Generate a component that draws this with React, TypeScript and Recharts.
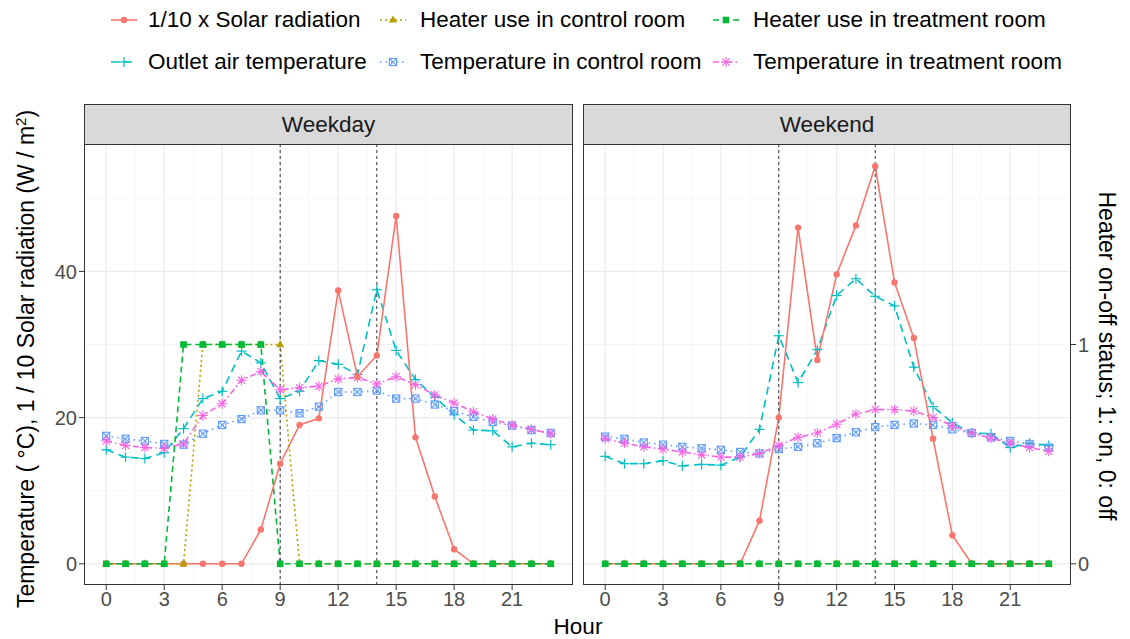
import React from 'react';
import { ComposedChart, Line, XAxis, YAxis, CartesianGrid, ReferenceLine } from 'recharts';

// Hourly means, 0-23 h
const hours = [0, 1, 2, 3, 4, 5, 6, 7, 8, 9, 10, 11, 12, 13, 14, 15, 16, 17, 18, 19, 20, 21, 22, 23];

// Weekday
const weekdaySolar = [0, 0, 0, 0, 0, 0, 0, 0, 4.7, 13.7, 19.0, 19.9, 37.4, 25.6, 28.5, 47.6, 17.3, 9.2, 2.0, 0, 0, 0, 0, 0];
const weekdayHeaterControl = [0, 0, 0, 0, 0, 1, 1, 1, 1, 1, 0, 0, 0, 0, 0, 0, 0, 0, 0, 0, 0, 0, 0, 0];
const weekdayHeaterTreatment = [0, 0, 0, 0, 1, 1, 1, 1, 1, 0, 0, 0, 0, 0, 0, 0, 0, 0, 0, 0, 0, 0, 0, 0];
const weekdayOutlet = [15.6, 14.6, 14.4, 15.2, 18.5, 22.6, 23.6, 29.1, 27.5, 22.6, 23.6, 27.8, 27.3, 25.9, 37.5, 29.2, 25.2, 22.8, 20.4, 18.3, 18.2, 16.0, 16.5, 16.3];
const weekdayControl = [17.5, 17.1, 16.8, 16.4, 16.3, 17.8, 19.0, 19.8, 21.0, 21.0, 20.6, 21.5, 23.5, 23.5, 23.7, 22.6, 22.6, 21.8, 20.9, 20.1, 19.4, 18.9, 18.3, 17.9];
const weekdayTreatment = [16.8, 16.2, 15.9, 15.8, 16.4, 20.3, 21.9, 25.1, 26.3, 23.8, 24.1, 24.3, 25.3, 25.5, 24.6, 25.6, 24.5, 23.1, 22.0, 20.8, 19.8, 19.0, 18.4, 17.8];

// Weekend
const weekendSolar = [0, 0, 0, 0, 0, 0, 0, 0, 5.9, 20.0, 46.0, 27.9, 39.6, 46.3, 54.4, 38.5, 30.9, 17.1, 3.9, 0, 0, 0, 0, 0];
const weekendHeaterControl = [0, 0, 0, 0, 0, 0, 0, 0, 0, 0, 0, 0, 0, 0, 0, 0, 0, 0, 0, 0, 0, 0, 0, 0];
const weekendHeaterTreatment = [0, 0, 0, 0, 0, 0, 0, 0, 0, 0, 0, 0, 0, 0, 0, 0, 0, 0, 0, 0, 0, 0, 0, 0];
const weekendOutlet = [14.7, 13.7, 13.7, 14.1, 13.4, 13.6, 13.5, 14.6, 18.4, 31.2, 24.8, 29.3, 36.7, 39.0, 36.6, 35.3, 26.9, 21.5, 19.3, 17.9, 17.8, 15.9, 16.5, 16.2];
const weekendControl = [17.4, 17.1, 16.6, 16.3, 16.0, 15.8, 15.6, 15.3, 15.1, 15.7, 16.0, 16.5, 17.2, 18.0, 18.7, 19.0, 19.2, 19.0, 18.4, 17.9, 17.3, 16.8, 16.4, 15.9];
const weekendTreatment = [17.1, 16.5, 16.0, 15.7, 15.3, 14.9, 14.6, 14.6, 15.1, 16.2, 17.3, 17.9, 19.1, 20.5, 21.1, 21.1, 20.9, 20.0, 18.9, 17.9, 17.2, 16.5, 15.9, 15.4];

const hourTicks = [0, 3, 6, 9, 12, 15, 18, 21];
const hourMinor = [1.5, 4.5, 7.5, 10.5, 13.5, 16.5, 19.5, 22.5];
const tempTicks = [0, 20, 40];
const tempMinor = [10, 30, 50];
const heaterTicks = [0, 1];
const markerHours = [9, 14];

// heater status sits on a secondary axis: 1 on-state == 30 on the temperature axis
const HEATER_SCALE = 30;
const tempDomain = [-2.9, 57.3];
const heaterDomain = [tempDomain[0] / HEATER_SCALE, tempDomain[1] / HEATER_SCALE];
const hourDomain = [-1.15, 24.15];

type MarkerKind = 'circle' | 'triangle' | 'square' | 'plus' | 'squarecross' | 'asterisk';

interface SeriesDef {
  key: string;
  label: string;
  color: string;
  dash?: string;
  marker: MarkerKind;
  axis: 'temp' | 'heater';
}

const series: SeriesDef[] = [
  { key: 'solar', label: '1/10 x Solar radiation', color: '#F8766D', marker: 'circle', axis: 'temp' },
  { key: 'heaterControl', label: 'Heater use in control room', color: '#B79F00', dash: '2 3', marker: 'triangle', axis: 'heater' },
  { key: 'heaterTreatment', label: 'Heater use in treatment room', color: '#00BA38', dash: '6 4', marker: 'square', axis: 'heater' },
  { key: 'outlet', label: 'Outlet air temperature', color: '#00BFC4', dash: '8 5', marker: 'plus', axis: 'temp' },
  { key: 'control', label: 'Temperature in control room', color: '#619CFF', dash: '1.5 4', marker: 'squarecross', axis: 'temp' },
  { key: 'treatment', label: 'Temperature in treatment room', color: '#F564E3', dash: '6 3 1.5 3', marker: 'asterisk', axis: 'temp' },
];

// temperatures first so the solar and heater traces sit on top
const drawOrder = ['outlet', 'control', 'treatment', 'solar', 'heaterControl', 'heaterTreatment'];

const buildRows = (
  solar: number[], heaterControl: number[], heaterTreatment: number[],
  outlet: number[], control: number[], treatment: number[],
) => hours.map((hour, i) => ({
  hour,
  solar: solar[i],
  heaterControl: heaterControl[i],
  heaterTreatment: heaterTreatment[i],
  outlet: outlet[i],
  control: control[i],
  treatment: treatment[i],
}));

const weekdayRows = buildRows(weekdaySolar, weekdayHeaterControl, weekdayHeaterTreatment, weekdayOutlet, weekdayControl, weekdayTreatment);
const weekendRows = buildRows(weekendSolar, weekendHeaterControl, weekendHeaterTreatment, weekendOutlet, weekendControl, weekendTreatment);

function Marker({ kind, cx, cy, color }: { kind: MarkerKind; cx: number; cy: number; color: string }) {
  switch (kind) {
    case 'circle':
      return <circle cx={cx} cy={cy} r={3.2} fill={color} />;
    case 'triangle':
      return <polygon points={`${cx},${cy - 4.6} ${cx - 4.1},${cy + 2.6} ${cx + 4.1},${cy + 2.6}`} fill={color} />;
    case 'square':
      return <rect x={cx - 3.3} y={cy - 3.3} width={6.6} height={6.6} fill={color} />;
    case 'plus':
      return (
        <g stroke={color} strokeWidth={1.2}>
          <line x1={cx - 5} y1={cy} x2={cx + 5} y2={cy} />
          <line x1={cx} y1={cy - 5} x2={cx} y2={cy + 5} />
        </g>
      );
    case 'squarecross':
      return (
        <g stroke={color} strokeWidth={1.1} fill="none">
          <rect x={cx - 3.6} y={cy - 3.6} width={7.2} height={7.2} />
          <line x1={cx - 3.6} y1={cy - 3.6} x2={cx + 3.6} y2={cy + 3.6} />
          <line x1={cx - 3.6} y1={cy + 3.6} x2={cx + 3.6} y2={cy - 3.6} />
        </g>
      );
    case 'asterisk':
      return (
        <g stroke={color} strokeWidth={1.1}>
          <line x1={cx - 5} y1={cy} x2={cx + 5} y2={cy} />
          <line x1={cx} y1={cy - 5} x2={cx} y2={cy + 5} />
          <line x1={cx - 3.6} y1={cy - 3.6} x2={cx + 3.6} y2={cy + 3.6} />
          <line x1={cx - 3.6} y1={cy + 3.6} x2={cx + 3.6} y2={cy - 3.6} />
        </g>
      );
  }
  return null;
}

const tickStyle = { fill: '#4d4d4d', fontSize: 20 };
const tickLine = { stroke: '#333333' };

function Panel({ rows, side }: { rows: ReturnType<typeof buildRows>; side: 'left' | 'right' }) {
  const isLeft = side === 'left';
  return (
    <ComposedChart
      width={isLeft ? 578 : 528}
      height={494}
      data={rows}
      margin={{ top: 0, right: isLeft ? 5 : 0, bottom: 0, left: 0 }}
    >
      <XAxis
        type="number"
        dataKey="hour"
        domain={hourDomain}
        ticks={hourTicks}
        interval={0}
        allowDataOverflow
        height={54}
        axisLine={false}
        tickLine={tickLine}
        tickSize={5}
        tick={tickStyle}
      />
      <YAxis
        yAxisId="temp"
        type="number"
        domain={tempDomain}
        ticks={tempTicks}
        interval={0}
        allowDataOverflow
        hide={!isLeft}
        width={84}
        axisLine={false}
        tickLine={tickLine}
        tickSize={5}
        tick={tickStyle}
      />
      <YAxis
        yAxisId="heater"
        orientation="right"
        type="number"
        domain={heaterDomain}
        ticks={heaterTicks}
        interval={0}
        allowDataOverflow
        hide={isLeft}
        width={40}
        axisLine={false}
        tickLine={tickLine}
        tickSize={5}
        tick={tickStyle}
      />
      <CartesianGrid yAxisId="temp" horizontalValues={tempMinor} verticalValues={hourMinor} stroke="#f2f2f2" strokeWidth={0.7} fill="none" />
      <CartesianGrid yAxisId="temp" horizontalValues={tempTicks} verticalValues={hourTicks} stroke="#ebebeb" strokeWidth={1.2} fill="none" />
      {drawOrder.map((k) => {
        const s = series.find((d) => d.key === k)!;
        return (
          <Line
            key={s.key}
            yAxisId={s.axis}
            type="linear"
            dataKey={s.key}
            stroke={s.color}
            strokeWidth={1.6}
            strokeDasharray={s.dash}
            isAnimationActive={false}
            dot={(p: any) => (
              <Marker key={`${s.key}-${p.index}`} kind={s.marker} cx={p.cx} cy={p.cy} color={s.color} />
            )}
            activeDot={false}
          />
        );
      })}
      {markerHours.map((h) => (
        <ReferenceLine key={h} yAxisId="temp" x={h} stroke="#333333" strokeWidth={1} strokeDasharray="3 3" />
      ))}
    </ComposedChart>
  );
}

function LegendKey({ s }: { s: SeriesDef }) {
  return (
    <svg width={28} height={16} style={{ display: 'block' }}>
      <line x1={1} y1={8} x2={27} y2={8} stroke={s.color} strokeWidth={1.6} strokeDasharray={s.dash} />
      <Marker kind={s.marker} cx={14} cy={8} color={s.color} />
    </svg>
  );
}

const legendCols = [110, 379, 712];
const legendTextCols = [148, 420, 753];
const legendRows = [20, 62];

const border = '1px solid #333333';

export default function App() {
  return (
    <div
      style={{
        position: 'absolute', left: 0, top: 0, width: 1130, height: 639,
        background: '#ffffff', fontFamily: '"Liberation Sans", Arial, sans-serif', color: '#000',
      }}
    >
      {/* legend, two rows of three */}
      {series.map((s, i) => {
        const col = i % 3;
        const row = Math.floor(i / 3);
        return (
          <React.Fragment key={s.key}>
            <div style={{ position: 'absolute', left: legendCols[col], top: legendRows[row] - 8 }}>
              <LegendKey s={s} />
            </div>
            <div style={{ position: 'absolute', left: legendTextCols[col], top: legendRows[row] - 13, fontSize: 22.5, lineHeight: '26px', whiteSpace: 'nowrap' }}>
              {s.label}
            </div>
          </React.Fragment>
        );
      })}

      {/* facet strips */}
      <div style={{ position: 'absolute', left: 84, top: 104, width: 489, height: 41, boxSizing: 'border-box', background: '#d9d9d9', border, display: 'flex', alignItems: 'center', justifyContent: 'center', fontSize: 22.5, color: '#1a1a1a' }}>
        Weekday
      </div>
      <div style={{ position: 'absolute', left: 583, top: 104, width: 488, height: 41, boxSizing: 'border-box', background: '#d9d9d9', border, display: 'flex', alignItems: 'center', justifyContent: 'center', fontSize: 22.5, color: '#1a1a1a' }}>
        Weekend
      </div>

      <div style={{ position: 'absolute', left: 0, top: 145 }}>
        <Panel rows={weekdayRows} side="left" />
      </div>
      <div style={{ position: 'absolute', left: 583, top: 145 }}>
        <Panel rows={weekendRows} side="right" />
      </div>

      {/* panel borders */}
      <div style={{ position: 'absolute', left: 84, top: 144, width: 489, height: 441, boxSizing: 'border-box', border, pointerEvents: 'none' }} />
      <div style={{ position: 'absolute', left: 583, top: 144, width: 488, height: 441, boxSizing: 'border-box', border, pointerEvents: 'none' }} />

      {/* axis titles */}
      <div style={{ position: 'absolute', left: 26, top: 359, transform: 'translate(-50%, -50%) rotate(-90deg)', fontSize: 23, whiteSpace: 'nowrap' }}>
        Temperature ( °C), 1 / 10 Solar radiation (W / m<sup style={{ fontSize: 15 }}>2</sup>)
      </div>
      <div style={{ position: 'absolute', left: 1106, top: 356, transform: 'translate(-50%, -50%) rotate(90deg)', fontSize: 23, whiteSpace: 'nowrap' }}>
        Heater on-off status; 1: on, 0: off
      </div>
      <div style={{ position: 'absolute', left: 578, top: 627, transform: 'translate(-50%, -50%)', fontSize: 22.5, whiteSpace: 'nowrap' }}>
        Hour
      </div>
    </div>
  );
}
